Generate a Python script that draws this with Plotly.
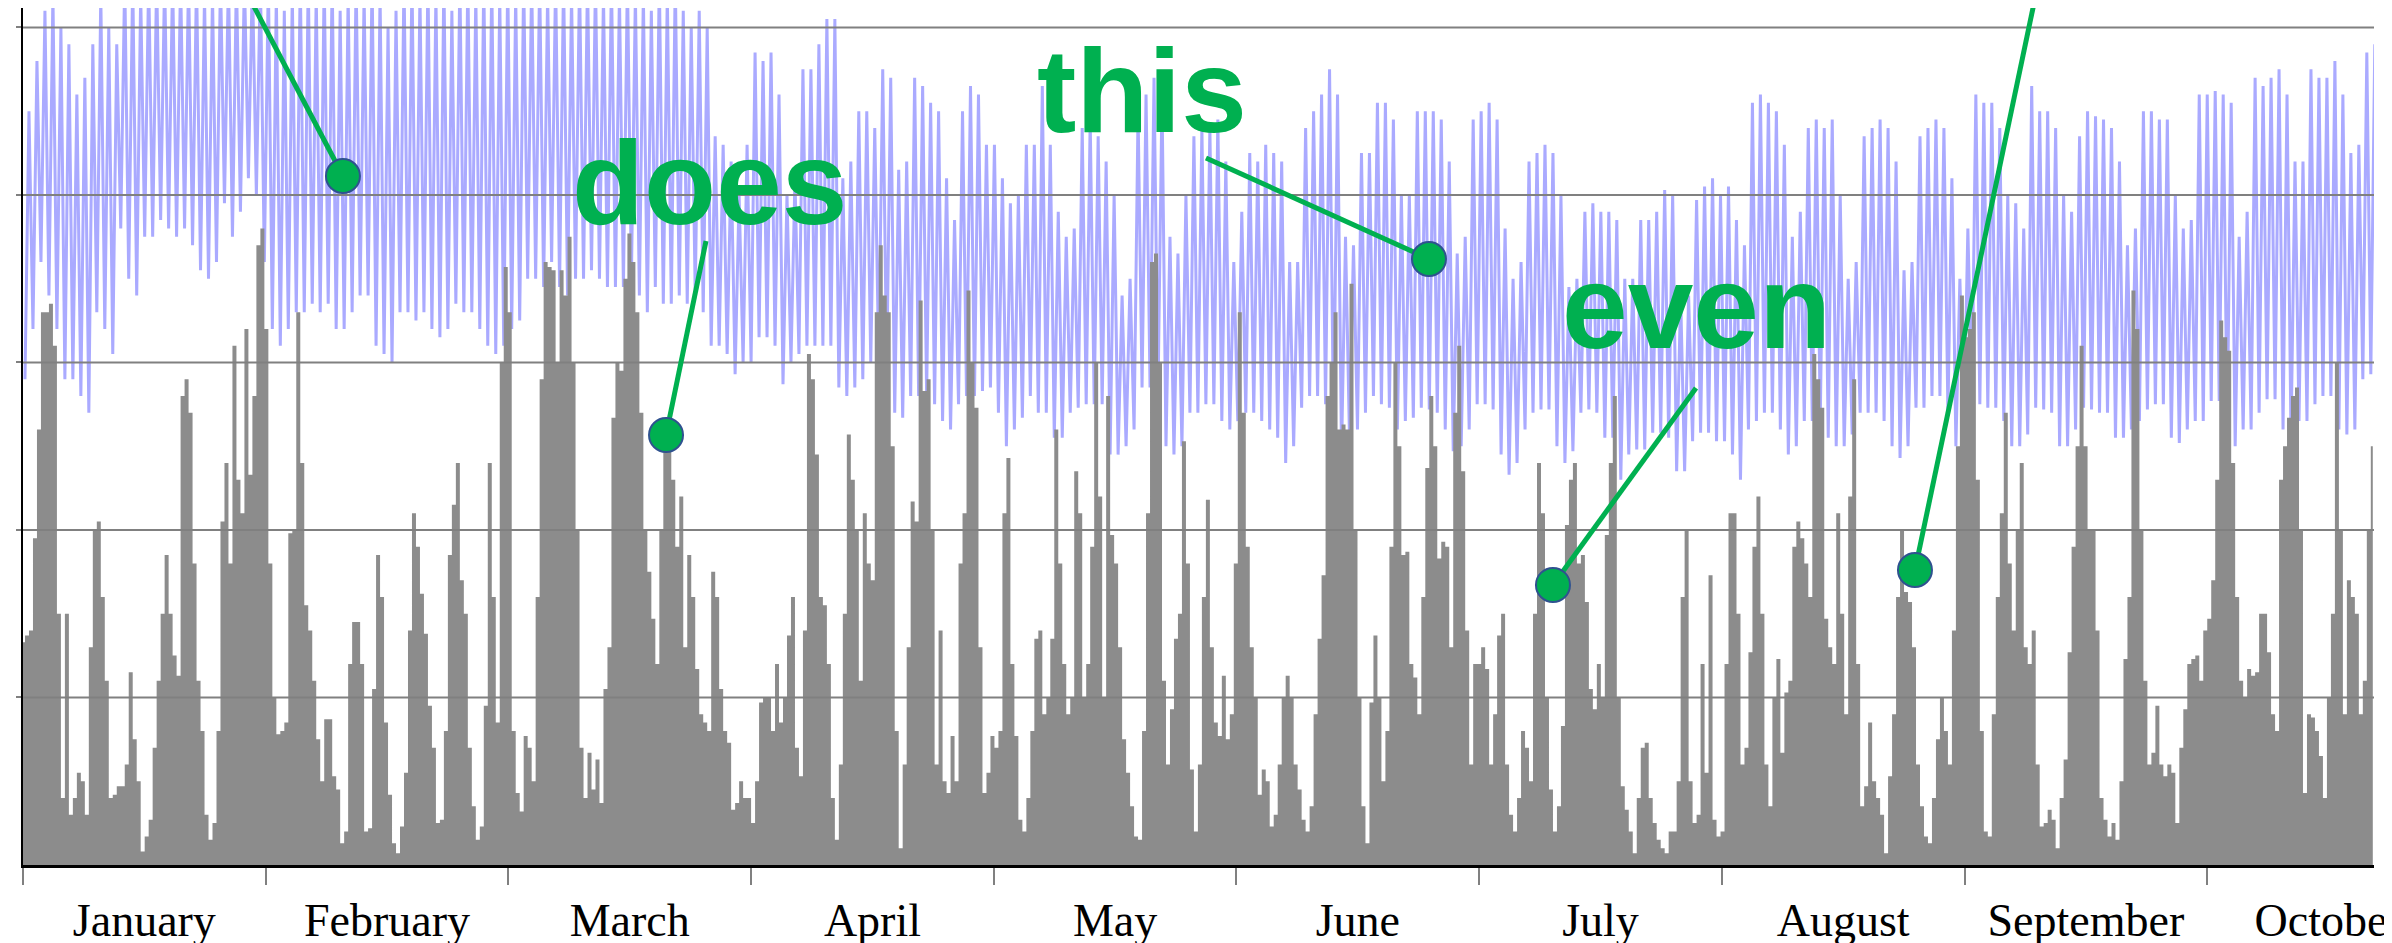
import plotly.graph_objects as go

# ---------------- data ----------------
months = ["January", "February", "March", "April", "May", "June",
          "July", "August", "September", "October"]
grid_values = [1, 2, 3, 4, 5]

# gray series, one value per half day
wind_part1 = [1.33,1.37,1.4,1.95,2.6,3.3,3.3,3.35,3.1,1.5,0.4,1.5,0.3,0.4,0.55,0.5,0.3,1.3,2.0,2.05,1.6,1.1,0.4,0.42,0.47,0.47,0.6,1.15,0.75,0.5,0.08,0.17,0.27,0.7,1.1,1.5,1.85,1.5,1.25,1.13,2.8,2.9,2.7,1.8,1.1,0.8,0.3,0.15,0.25,0.8,2.05,2.4,1.8,3.1,2.3,2.1,3.2,2.33,2.8,3.7,3.8,3.2,1.8,1.0,0.78,0.8,0.85,1.98,2.0,3.3,2.4,1.55,1.4,1.1,0.75,0.5,0.87,0.87,0.53,0.45,0.13,0.2,1.2,1.45]
wind_part2 = [1.45,1.2,0.2,0.22,1.05,1.85,1.6,0.85,0.42,0.13,0.07,0.23,0.55,1.4,2.1,1.9,1.62,1.38,0.95,0.7,0.25,0.27,0.8,1.85,2.15,2.4,1.7,1.5,0.7,0.35,0.15,0.23,0.95,2.4,1.6,0.85,3.0,3.57,3.3,0.8,0.43,0.32,0.77,0.7,0.5,1.6,2.9,3.6,3.57,3.55,3.0,3.55,3.4,3.75,3.0,2.0,0.7,0.4,0.67,0.45,0.63,0.37,1.05,1.3,2.67,3.0,2.95,3.5,3.77,3.6,3.3,2.7,2.0,1.75,1.47,1.2,2.0,2.5,2.5,2.3,1.9,2.2,1.3,1.85]
wind_part3 = [1.6,1.17,0.9,0.85,0.8,1.75,1.6,1.05,0.8,0.73,0.33,0.37,0.5,0.4,0.4,0.25,0.5,0.97,1.0,1.0,0.8,1.2,0.85,1.0,1.37,1.6,0.7,0.53,1.4,3.05,2.9,2.45,1.6,1.55,1.2,0.4,0.15,0.6,1.5,2.57,2.3,2.0,1.1,2.1,1.8,1.7,3.3,3.7,3.4,3.3,2.5,0.8,0.1,0.6,1.3,2.17,2.05,3.37,2.83,2.9,2.0,0.6,1.4,0.5,0.43,0.77,0.5,1.8,2.1,3.43,3.0,2.73,1.3,0.43,0.55,0.77,0.7,0.8,2.1,2.43,1.2,0.77,0.27,0.2]
wind_part4 = [0.4,0.8,1.35,1.4,0.9,1.0,1.35,2.6,1.8,1.2,0.9,1.0,2.35,2.1,1.0,1.2,1.9,3.0,2.2,1.0,2.8,1.97,1.8,1.3,0.75,0.55,0.35,0.17,0.15,0.8,2.1,3.6,3.65,3.0,1.1,0.6,0.93,1.35,1.5,2.53,1.8,0.57,0.2,0.6,1.6,2.18,1.3,0.85,0.77,1.13,0.75,0.9,1.8,3.3,2.7,1.9,1.3,1.0,0.42,0.57,0.5,0.23,0.3,0.6,1.0,1.13,1.0,0.6,0.45,0.27,0.2,0.35,0.9,1.35,1.73,2.8,3.0,3.3,2.6,2.63,2.6,3.47,2.0,1.0,0.35]
wind_part5 = [0.13,0.97,1.37,1.0,0.5,0.8,1.9,3.0,2.5,1.85,1.87,1.2,1.12,0.9,1.6,2.37,2.8,2.5,1.83,1.93,1.9,1.3,2.7,3.1,2.35,1.4,0.6,1.2,1.2,1.3,1.17,0.6,0.9,1.37,1.5,0.6,0.3,0.2,0.4,0.8,0.7,0.5,1.5,2.4,2.1,1.0,0.45,0.2,0.35,0.83,2.03,2.3,2.4,1.8,1.85,1.57,1.05,0.93,1.2,1.0,1.97,2.4,2.8,1.0,0.47,0.33,0.2,0.07,0.4,0.7,0.73,0.4,0.25,0.15,0.1,0.07,0.2,0.2,0.5,1.6,2.0,0.5,0.25,0.3]
wind_part6 = [1.2,0.55,1.73,0.27,0.17,0.2,1.2,2.1,2.1,1.5,0.6,0.7,1.27,1.9,2.2,1.5,0.6,0.35,1.0,1.23,0.67,1.03,1.1,1.9,2.05,1.95,1.8,1.6,3.05,2.9,2.73,1.47,1.3,1.2,2.1,1.5,0.9,2.2,2.9,1.2,0.35,0.47,0.85,0.5,0.4,0.3,0.07,0.53,0.9,1.6,2.0,1.63,1.57,1.3,0.6,0.35,0.17,0.13,0.4,0.75,1.0,0.8,0.6,1.4,2.5,3.4,3.15,3.2,3.3,2.3,0.8,0.2,0.17,0.9,1.6,2.1,2.7,1.8,1.4,2.0,2.4,1.3,1.2,1.4]
wind_part7 = [0.6,0.23,0.25,0.33,0.27,0.1,0.4,0.63,1.27,1.9,2.5,3.1,2.5,2.0,2.0,1.4,0.4,0.27,0.17,0.25,0.15,0.5,1.23,1.6,3.43,3.2,2.0,1.1,0.6,0.67,0.95,0.6,0.53,0.6,0.55,0.25,0.7,0.93,1.2,1.23,1.25,1.1,1.4,1.47,1.7,2.3,3.25,3.15,3.07,2.4,1.6,1.1,1.0,1.17,1.13,1.15,1.5,1.5,1.27,0.9,0.8,2.3,2.5,2.67,2.8,2.85,2.0,0.43,0.9,0.88,0.8,0.65,0.4,1.0,1.5,3.0,2.0,0.9,1.7,1.6,1.5,0.9,1.1,2.0,2.5]

# blue series, daily low and daily high
demand_low_1 = [2.9,3.2,3.6,3.4,3.2,2.9,2.9,2.8,2.7,3.3,3.2,3.05,3.8,3.5,3.4,3.75,3.75,3.85,3.8,3.75,3.8,3.7,3.55,3.5,3.6,3.95,3.75,3.9,4.1,4.0,3.6,3.2,3.1,3.2,3.3,3.3,3.35,3.3,3.35,3.2,3.2,3.3]
demand_high_1 = [4.5,4.8,5.1,5.2,5.0,4.9,4.6,4.7,4.9,5.2,5.0,4.9,5.3,5.3,5.2,5.3,5.3,5.3,5.3,5.3,5.3,5.3,5.2,5.2,5.3,5.3,5.3,5.3,5.3,5.3,5.3,5.2,5.1,5.2,5.3,5.3,5.2,5.3,5.3,5.1,5.2,5.3]
demand_low_2 = [3.4,3.4,3.1,3.05,3.0,3.3,3.3,3.25,3.3,3.2,3.15,3.2,3.35,3.3,3.3,3.2,3.1,3.05,3.1,3.2,3.25,3.5,3.5,3.45,3.6,3.45,3.4,3.5,3.5,3.55,3.5,3.45,3.45,3.45,3.5,3.4,3.3,3.45,3.35,3.35,3.4,3.35]
demand_high_2 = [5.2,5.3,5.2,5.0,5.1,5.3,5.3,5.2,5.3,5.2,5.3,5.1,5.3,5.3,5.2,5.3,5.3,5.2,5.3,5.2,5.3,5.3,5.3,5.2,5.3,5.3,5.2,5.3,5.3,5.3,5.2,5.3,5.2,5.3,5.2,5.2,5.1,5.3,5.2,5.3,5.1,5.0]
demand_low_3 = [3.4,3.3,3.1,3.1,3.05,2.93,3.0,3.0,3.15,3.15,3.1,2.87,3.0,3.05,3.1,3.1,3.1,3.1,2.85,2.8,2.85,2.9,3.0,3.0,2.95,2.7,2.67,2.8,2.8,2.8,2.75,2.65,2.6,2.75,2.8,2.8,2.83,2.85,2.7,2.5,2.6,2.67]
demand_high_3 = [5.1,5.0,4.35,4.3,4.2,4.0,4.3,4.85,4.8,4.85,4.6,4.0,4.1,4.75,4.75,4.9,5.05,5.05,4.1,4.2,4.5,4.5,4.4,4.75,4.7,4.15,4.2,4.7,4.65,4.55,4.5,4.1,3.85,4.5,4.65,4.6,4.3,4.3,4.1,3.95,4.0,4.3]
demand_low_4 = [2.8,2.7,2.7,2.55,2.55,2.7,2.73,2.75,2.75,2.75,2.45,2.45,2.5,2.6,2.85,2.85,2.8,2.5,2.45,2.5,2.7,2.7,2.75,2.75,2.65,2.6,2.65,2.7,2.7,2.65,2.6,2.55,2.4,2.5,2.73,2.8,2.8,2.75,2.6,2.45,2.55,2.6]
demand_high_4 = [4.3,4.65,4.3,3.9,3.75,3.8,4.4,4.45,4.35,4.2,4.0,3.4,3.5,4.5,4.6,4.7,4.6,3.75,3.65,4.0,4.35,4.4,4.4,4.45,4.2,3.6,3.9,4.25,4.2,4.3,4.25,4.2,3.6,3.6,4.4,4.5,4.6,4.75,4.6,3.75,3.7,4.25]
demand_low_5 = [2.7,2.8,2.75,2.73,2.6,2.65,2.67,2.73,2.72,2.7,2.6,2.47,2.5,2.6,2.75,2.75,2.72,2.45,2.33,2.4,2.6,2.7,2.72,2.72,2.5,2.4,2.47,2.7,2.72,2.7,2.55,2.55,2.3,2.45,2.48,2.48,2.58,2.58,2.55,2.35,2.35,2.53]
demand_high_5 = [4.25,4.55,4.55,4.45,4.0,4.0,4.5,4.5,4.5,4.45,4.2,3.65,3.75,4.45,4.5,4.55,4.45,3.8,3.5,3.6,4.2,4.25,4.3,4.25,4.0,3.45,3.5,3.9,3.95,3.9,3.9,3.85,3.5,3.5,3.85,3.85,3.9,4.03,4.0,3.4,3.4,3.97]
demand_low_6 = [2.58,2.58,2.53,2.53,2.45,2.3,2.6,2.65,2.7,2.7,2.6,2.45,2.5,2.65,2.65,2.65,2.55,2.5,2.5,2.57,2.7,2.7,2.7,2.65,2.5,2.43,2.5,2.73,2.73,2.8,2.8,2.7,2.5,2.6,2.75,2.75,2.73,2.73,2.65,2.5,2.5,2.57]
demand_high_6 = [4.05,4.1,4.0,4.05,3.85,3.7,4.55,4.6,4.55,4.5,4.3,3.75,3.9,4.4,4.45,4.4,4.45,4.0,3.5,3.6,4.35,4.4,4.45,4.4,4.2,3.55,3.6,4.35,4.4,4.45,4.4,4.1,3.5,3.8,4.6,4.55,4.55,4.4,4.0,3.95,3.8,4.65]
demand_low_7 = [2.73,2.72,2.7,2.5,2.5,2.6,2.73,2.72,2.7,2.7,2.55,2.55,2.6,2.65,2.72,2.75,2.75,2.55,2.52,2.6,2.65,2.65,2.77,2.77,2.6,2.5,2.6,2.6,2.7,2.78,2.78,2.6,2.55,2.65,2.65,2.75,2.8,2.8,2.6,2.57,2.6,2.9,2.93]
demand_high_7 = [4.5,4.5,4.4,4.0,3.9,4.35,4.5,4.47,4.45,4.4,4.2,3.7,3.8,4.5,4.5,4.45,4.45,4.0,3.8,3.85,4.6,4.6,4.62,4.6,4.55,3.75,3.9,4.7,4.65,4.7,4.75,4.6,4.2,4.2,4.75,4.7,4.7,4.8,4.6,4.25,4.3,4.85,4.9]

# callout words and the points (day, value) they point at
callout_words = ["does", "this", "even"]
callout_word_pos = [(86.0, 4.07), (140.2, 4.62), (209.7, 3.33)]
callout_dots = [(40.10, 4.113), (80.59, 2.567), (176.21, 3.618), (191.75, 1.672), (237.12, 1.761)]
callout_line_starts = [(27.72, 5.236), (85.60, 3.725), (148.26, 4.221), (209.68, 2.848), (252.44, 5.236)]

# ---------------- build ----------------
DAYS_PER_MONTH = 365 / 12
X_MAX = 294.65
Y_MAX = 5.116

wind = wind_part1 + wind_part2 + wind_part3 + wind_part4 + wind_part5 + wind_part6 + wind_part7
wind_x = [0.5 * k for k in range(len(wind))]

demand_low = demand_low_1 + demand_low_2 + demand_low_3 + demand_low_4 + demand_low_5 + demand_low_6 + demand_low_7
demand_high = demand_high_1 + demand_high_2 + demand_high_3 + demand_high_4 + demand_high_5 + demand_high_6 + demand_high_7
demand_x, demand_y = [], []
for d, (lo, hi) in enumerate(zip(demand_low, demand_high)):
    demand_x += [d + 0.25, d + 0.75]
    demand_y += [lo, hi]

GREEN = "#00B050"
BLUE = "#AAAAFF"
GRAY = "#8C8C8C"

fig = go.Figure()
fig.add_trace(go.Scatter(x=demand_x, y=demand_y, mode="lines",
                         line=dict(color=BLUE, width=3), hoverinfo="skip", showlegend=False))
fig.add_trace(go.Scatter(x=wind_x, y=wind, mode="lines",
                         line=dict(color=GRAY, width=0, shape="hvh"),
                         fill="tozeroy", fillcolor=GRAY, hoverinfo="skip", showlegend=False))

shapes = []
for g in grid_values:
    shapes.append(dict(type="line", xref="paper", x0=0, x1=1, yref="y", y0=g, y1=g,
                       line=dict(color="#808080", width=2), layer="above"))
for (x0, y0), (x1, y1) in zip(callout_line_starts, callout_dots):
    shapes.append(dict(type="line", xref="x", yref="y", x0=x0, y0=y0, x1=x1, y1=y1,
                       line=dict(color=GREEN, width=5), layer="above"))
for (cx, cy) in callout_dots:
    shapes.append(dict(type="circle", xref="x", yref="y", xsizemode="pixel", ysizemode="pixel",
                       xanchor=cx, yanchor=cy, x0=-17, x1=17, y0=-17, y1=17,
                       fillcolor=GREEN, line=dict(color="#2F528F", width=2), layer="above"))

annotations = []
for word, (wx, wy) in zip(callout_words, callout_word_pos):
    annotations.append(dict(x=wx, y=wy, xref="x", yref="y", text="<b>%s</b>" % word,
                            showarrow=False, xanchor="center", yanchor="middle",
                            font=dict(family="Liberation Sans, Arial, sans-serif", size=118, color=GREEN)))

fig.update_layout(
    width=2392, height=943,
    margin=dict(l=15, r=26, t=0, b=86, autoexpand=False),
    paper_bgcolor="white", plot_bgcolor="white",
    shapes=shapes, annotations=annotations,
    showlegend=False,
    xaxis=dict(range=[0, X_MAX], showgrid=False, zeroline=False, automargin=False,
               showline=True, linecolor="black", linewidth=3,
               tickmode="array",
               tickvals=[(m + 0.5) * DAYS_PER_MONTH for m in range(len(months))],
               ticktext=months, ticks="outside", ticklen=13, tickcolor="rgba(0,0,0,0)",
               tickfont=dict(family="Liberation Serif, Times New Roman, serif", size=46, color="black"),
               ticklabeloverflow="allow",
               minor=dict(tickmode="array",
                          tickvals=[m * DAYS_PER_MONTH for m in range(len(months))],
                          ticks="outside", ticklen=17, tickwidth=2, tickcolor="#808080",
                          showgrid=False)),
    yaxis=dict(range=[0, Y_MAX], showgrid=False, zeroline=False, automargin=False,
               showline=True, linecolor="black", linewidth=2,
               showticklabels=False, tickmode="array", tickvals=grid_values,
               ticks="outside", ticklen=5, tickwidth=2, tickcolor="#808080"),
)

fig.write_html("out.html")
